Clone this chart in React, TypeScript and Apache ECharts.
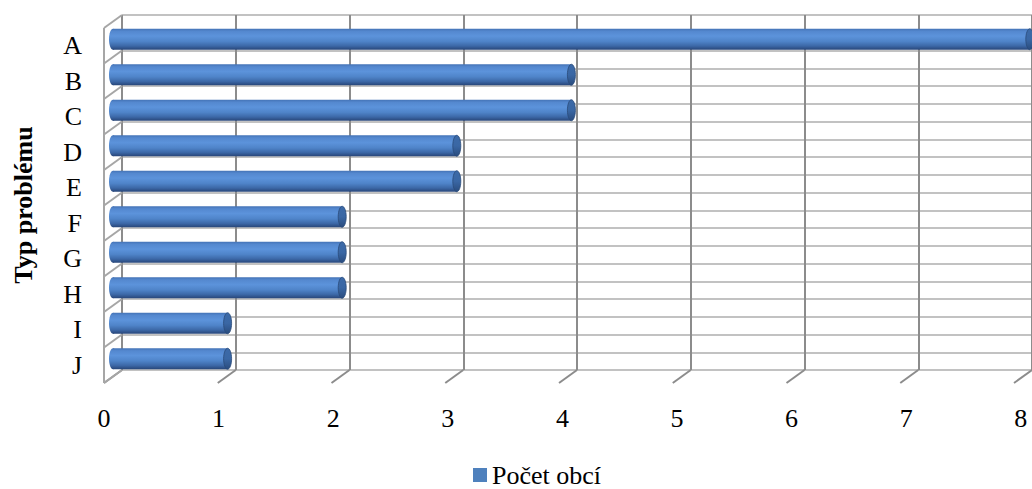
import React, { useEffect, useRef } from "react";
import * as echarts from "echarts";

// ---- data ----
const CATEGORIES = ["A", "B", "C", "D", "E", "F", "G", "H", "I", "J"];
const VALUES = [8, 4, 4, 3, 3, 2, 2, 2, 1, 1];
const X_MIN = 0;
const X_MAX = 8;
const X_INTERVAL = 1;
const X_TICKS = [0, 1, 2, 3, 4, 5, 6, 7, 8];
const SERIES_NAME = "Počet obcí";
const AXIS_TITLE = "Typ problému";

// ---- layout / style ----
const W = 1032;
const H = 489;
const FRONT_LEFT = 104;
const FRONT_TOP = 28;
const DEPTH_DX = 18;
const DEPTH_DY = 13;
const PLOT_W = 916.8;
const PLOT_H = 355;
const FONT = "'Liberation Serif', 'Times New Roman', serif";
const BAR_COLOR = "#4f81bd";
const HALF_STEPS = CATEGORIES.length * 2;

export default function App() {
  const ref = useRef<HTMLDivElement | null>(null);

  useEffect(() => {
    document.body.style.margin = "0";
    if (!ref.current) return;
    const chart = echarts.init(ref.current, null, { renderer: "svg" });

    const backLeft = FRONT_LEFT + DEPTH_DX;
    const backTop = FRONT_TOP - DEPTH_DY;
    const midLeft = FRONT_LEFT + DEPTH_DX / 2;
    const midTop = FRONT_TOP - DEPTH_DY / 2;

    const floorData = X_TICKS.map((x) => [x, 0]);
    const wallData: number[][] = [];
    for (let j = 0; j <= CATEGORIES.length; j++) wallData.push([0, j * 2]);

    const bodyGradient = new echarts.graphic.LinearGradient(0, 0, 0, 1, [
      { offset: 0, color: "#4473b6" },
      { offset: 0.12, color: "#5488cf" },
      { offset: 0.35, color: "#5c93db" },
      { offset: 0.6, color: "#4f84c9" },
      { offset: 0.82, color: "#3c68a7" },
      { offset: 1, color: "#284679" },
    ]);
    const capGradient = new echarts.graphic.LinearGradient(0, 0, 0, 1, [
      { offset: 0, color: "#3c6aa8" },
      { offset: 0.5, color: "#3a67a4" },
      { offset: 1, color: "#2a4c7e" },
    ]);

    const option: any = {
      animation: false,
      grid: [
        { left: backLeft, top: backTop, width: PLOT_W, height: PLOT_H },
        { left: midLeft, top: midTop, width: PLOT_W, height: PLOT_H },
        { left: FRONT_LEFT, top: FRONT_TOP, width: PLOT_W, height: PLOT_H },
      ],
      xAxis: [
        {
          gridIndex: 0,
          type: "value",
          min: X_MIN,
          max: X_MAX,
          interval: X_INTERVAL,
          axisLine: { show: false },
          axisTick: { show: false },
          axisLabel: { show: false },
          splitLine: { show: true, lineStyle: { color: "#8c8c8c", width: 2 } },
        },
        {
          gridIndex: 1,
          type: "value",
          min: X_MIN,
          max: X_MAX,
          interval: X_INTERVAL,
          show: false,
        },
        {
          gridIndex: 2,
          type: "value",
          min: X_MIN,
          max: X_MAX,
          interval: X_INTERVAL,
          axisLine: { show: false },
          axisTick: { show: false },
          splitLine: { show: false },
          axisLabel: {
            show: true,
            margin: 22,
            fontSize: 26,
            fontFamily: FONT,
            color: "#000",
          },
        },
      ],
      yAxis: [
        {
          gridIndex: 0,
          type: "value",
          min: 0,
          max: HALF_STEPS,
          interval: 1,
          axisLine: { show: false },
          axisTick: { show: false },
          axisLabel: { show: false },
          splitLine: { show: true, lineStyle: { color: "#c2c2c2", width: 2 } },
        },
        {
          gridIndex: 1,
          type: "category",
          inverse: true,
          data: CATEGORIES,
          show: false,
        },
        {
          gridIndex: 2,
          type: "category",
          inverse: true,
          data: CATEGORIES,
          axisLine: { show: false },
          axisTick: { show: false },
          splitLine: { show: false },
          axisLabel: {
            show: true,
            margin: 22,
            fontSize: 26,
            fontFamily: FONT,
            color: "#000",
          },
        },
      ],
      legend: {
        show: true,
        data: [SERIES_NAME],
        left: 473,
        top: 462,
        padding: 0,
        icon: "rect",
        itemWidth: 14,
        itemHeight: 14,
        selectedMode: false,
        textStyle: { fontSize: 26, fontFamily: FONT, color: "#000" },
      },
      graphic: [
        {
          type: "text",
          x: 23,
          y: 205,
          rotation: Math.PI / 2,
          style: {
            text: AXIS_TITLE,
            fontSize: 26,
            fontWeight: "bold",
            fontFamily: FONT,
            fill: "#000",
            align: "center",
            verticalAlign: "middle",
          },
        },
      ],
      series: [
        {
          type: "custom",
          name: "floor",
          xAxisIndex: 0,
          yAxisIndex: 0,
          silent: true,
          z: 1,
          data: floorData,
          renderItem: (params: any, api: any) => {
            const p = api.coord([api.value(0), api.value(1)]);
            return {
              type: "line",
              shape: { x1: p[0], y1: p[1], x2: p[0] - DEPTH_DX, y2: p[1] + DEPTH_DY },
              style: { stroke: "#8c8c8c", lineWidth: 2 },
            };
          },
        },
        {
          type: "custom",
          name: "wall",
          xAxisIndex: 0,
          yAxisIndex: 0,
          silent: true,
          z: 1,
          data: wallData,
          renderItem: (params: any, api: any) => {
            const p = api.coord([api.value(0), api.value(1)]);
            return {
              type: "line",
              shape: { x1: p[0], y1: p[1], x2: p[0] - DEPTH_DX, y2: p[1] + DEPTH_DY },
              style: { stroke: "#a6a6a6", lineWidth: 2 },
            };
          },
        },
        {
          type: "custom",
          name: "edge",
          xAxisIndex: 0,
          yAxisIndex: 0,
          silent: true,
          z: 1,
          data: [[0, 0, HALF_STEPS]],
          renderItem: (params: any, api: any) => {
            const a = api.coord([api.value(0), api.value(1)]);
            const b = api.coord([api.value(0), api.value(2)]);
            return {
              type: "line",
              shape: {
                x1: a[0] - DEPTH_DX,
                y1: a[1] + DEPTH_DY,
                x2: b[0] - DEPTH_DX,
                y2: b[1] + DEPTH_DY,
              },
              style: { stroke: "#a6a6a6", lineWidth: 2 },
            };
          },
        },
        {
          type: "custom",
          name: SERIES_NAME,
          xAxisIndex: 1,
          yAxisIndex: 1,
          z: 5,
          itemStyle: { color: BAR_COLOR },
          encode: { x: 0, y: 1 },
          data: VALUES.map((v, i) => [v, i]),
          renderItem: (params: any, api: any) => {
            const cat = api.value(1);
            const start = api.coord([0, cat]);
            const end = api.coord([api.value(0), cat]);
            const band = api.size([0, 1])[1];
            const h = band * 0.59;
            const rx = 4;
            const y0 = start[1] - h / 2;
            return {
              type: "group",
              children: [
                {
                  type: "ellipse",
                  shape: { cx: start[0], cy: start[1], rx: rx, ry: h / 2 },
                  style: { fill: bodyGradient },
                },
                {
                  type: "rect",
                  shape: { x: start[0], y: y0, width: end[0] - start[0], height: h },
                  style: { fill: bodyGradient },
                },
                {
                  type: "ellipse",
                  shape: { cx: end[0], cy: end[1], rx: rx, ry: h / 2 },
                  style: { fill: capGradient, stroke: "#2a4a78", lineWidth: 0.8 },
                },
              ],
            };
          },
        },
      ],
    };

    chart.setOption(option);
    return () => chart.dispose();
  }, []);

  return <div ref={ref} style={{ width: W, height: H }} />;
}
